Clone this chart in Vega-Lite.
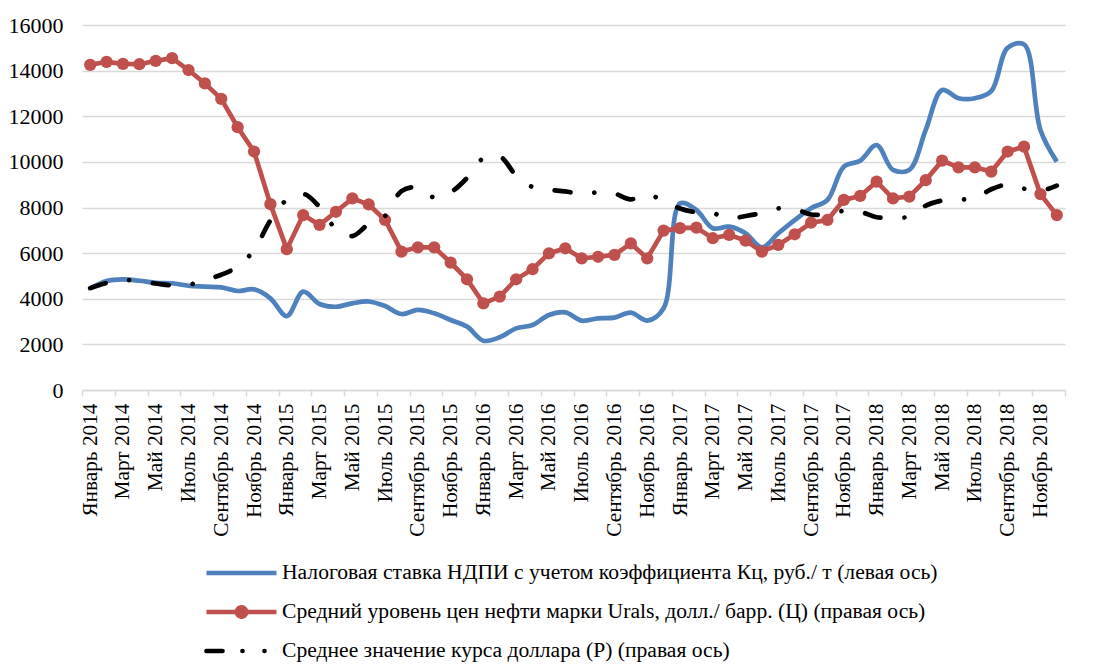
{
  "$schema": "https://vega.github.io/schema/vega-lite/v6.json",
  "width": 983,
  "height": 365,
  "autosize": {"type": "none"},
  "padding": {"left": 82, "top": 25, "right": 51, "bottom": 274},
  "background": "white",
  "config": {"view": {"stroke": null}, "font": "Liberation Serif, Times New Roman, serif"},
  "data": {"values": [
    {"month":"2014-01","m":0,"tax":4450,"urals":106.9,"usd":33.5},
    {"month":"2014-02","m":1,"tax":4780,"urals":107.9,"usd":35.2},
    {"month":"2014-03","m":2,"tax":4850,"urals":107.2,"usd":36.2},
    {"month":"2014-04","m":3,"tax":4790,"urals":107.1,"usd":35.7},
    {"month":"2014-05","m":4,"tax":4700,"urals":108.2,"usd":35.0},
    {"month":"2014-06","m":5,"tax":4680,"urals":109.1,"usd":34.4},
    {"month":"2014-07","m":6,"tax":4570,"urals":105.2,"usd":34.6},
    {"month":"2014-08","m":7,"tax":4530,"urals":100.8,"usd":36.1},
    {"month":"2014-09","m":8,"tax":4500,"urals":95.7,"usd":37.9},
    {"month":"2014-10","m":9,"tax":4340,"urals":86.4,"usd":40.6},
    {"month":"2014-11","m":10,"tax":4410,"urals":78.4,"usd":46.0},
    {"month":"2014-12","m":11,"tax":4020,"urals":61.1,"usd":55.8},
    {"month":"2015-01","m":12,"tax":3240,"urals":46.3,"usd":62.5},
    {"month":"2015-02","m":13,"tax":4310,"urals":57.5,"usd":64.5},
    {"month":"2015-03","m":14,"tax":3770,"urals":54.3,"usd":60.2},
    {"month":"2015-04","m":15,"tax":3650,"urals":58.6,"usd":53.0},
    {"month":"2015-05","m":16,"tax":3800,"urals":63.0,"usd":50.6},
    {"month":"2015-06","m":17,"tax":3880,"urals":61.0,"usd":54.6},
    {"month":"2015-07","m":18,"tax":3680,"urals":55.9,"usd":57.2},
    {"month":"2015-08","m":19,"tax":3330,"urals":45.5,"usd":65.4},
    {"month":"2015-09","m":20,"tax":3510,"urals":46.9,"usd":66.6},
    {"month":"2015-10","m":21,"tax":3360,"urals":46.9,"usd":63.3},
    {"month":"2015-11","m":22,"tax":3070,"urals":41.9,"usd":65.0},
    {"month":"2015-12","m":23,"tax":2780,"urals":36.4,"usd":69.7},
    {"month":"2016-01","m":24,"tax":2160,"urals":28.5,"usd":76.2},
    {"month":"2016-02","m":25,"tax":2310,"urals":30.7,"usd":76.8},
    {"month":"2016-03","m":26,"tax":2700,"urals":36.4,"usd":70.5},
    {"month":"2016-04","m":27,"tax":2850,"urals":39.7,"usd":66.7},
    {"month":"2016-05","m":28,"tax":3290,"urals":44.9,"usd":65.8},
    {"month":"2016-06","m":29,"tax":3400,"urals":46.6,"usd":65.3},
    {"month":"2016-07","m":30,"tax":3040,"urals":43.3,"usd":64.4},
    {"month":"2016-08","m":31,"tax":3140,"urals":43.8,"usd":65.0},
    {"month":"2016-09","m":32,"tax":3170,"urals":44.4,"usd":64.6},
    {"month":"2016-10","m":33,"tax":3390,"urals":48.2,"usd":62.7},
    {"month":"2016-11","m":34,"tax":3040,"urals":43.3,"usd":64.4},
    {"month":"2016-12","m":35,"tax":3580,"urals":52.4,"usd":62.0},
    {"month":"2017-01","m":36,"tax":8180,"urals":53.2,"usd":59.7},
    {"month":"2017-02","m":37,"tax":7890,"urals":53.4,"usd":58.4},
    {"month":"2017-03","m":38,"tax":7090,"urals":49.9,"usd":58.1},
    {"month":"2017-04","m":39,"tax":7160,"urals":51.0,"usd":56.4},
    {"month":"2017-05","m":40,"tax":6870,"urals":49.1,"usd":57.2},
    {"month":"2017-06","m":41,"tax":6250,"urals":45.5,"usd":58.2},
    {"month":"2017-07","m":42,"tax":6870,"urals":47.7,"usd":59.7},
    {"month":"2017-08","m":43,"tax":7450,"urals":51.2,"usd":59.5},
    {"month":"2017-09","m":44,"tax":7970,"urals":55.0,"usd":57.7},
    {"month":"2017-10","m":45,"tax":8330,"urals":55.9,"usd":57.9},
    {"month":"2017-11","m":46,"tax":9790,"urals":62.5,"usd":58.9},
    {"month":"2017-12","m":47,"tax":10050,"urals":63.8,"usd":58.6},
    {"month":"2018-01","m":48,"tax":10740,"urals":68.5,"usd":56.8},
    {"month":"2018-02","m":49,"tax":9650,"urals":63.0,"usd":56.8},
    {"month":"2018-03","m":50,"tax":9650,"urals":63.6,"usd":57.0},
    {"month":"2018-04","m":51,"tax":11400,"urals":69.0,"usd":60.6},
    {"month":"2018-05","m":52,"tax":13150,"urals":75.4,"usd":62.3},
    {"month":"2018-06","m":53,"tax":12790,"urals":73.2,"usd":62.7},
    {"month":"2018-07","m":54,"tax":12790,"urals":73.2,"usd":62.9},
    {"month":"2018-08","m":55,"tax":13100,"urals":71.8,"usd":66.0},
    {"month":"2018-09","m":56,"tax":15000,"urals":78.4,"usd":67.5},
    {"month":"2018-10","m":57,"tax":15150,"urals":80.0,"usd":66.2},
    {"month":"2018-11","m":58,"tax":11400,"urals":64.4,"usd":65.5},
    {"month":"2018-12","m":59,"tax":10010,"urals":57.5,"usd":67.2}
  ]},
  "encoding": {
    "x": {
      "field": "m",
      "type": "quantitative",
      "scale": {"domain": [-0.5, 59.5], "nice": false, "zero": false},
      "axis": {
        "values": [-0.5,1.5,3.5,5.5,7.5,9.5,11.5,13.5,15.5,17.5,19.5,21.5,23.5,25.5,27.5,29.5,31.5,33.5,35.5,37.5,39.5,41.5,43.5,45.5,47.5,49.5,51.5,53.5,55.5,57.5,59.5],
        "labelExpr": "datum.value > 59 ? '' : ['Январь','Март','Май','Июль','Сентябрь','Ноябрь'][round(((datum.value + 0.5) % 12) / 2)] + ' ' + (2014 + floor((datum.value + 0.5) / 12))",
        "labelAngle": 270,
        "labelAlign": "right",
        "labelBaseline": "middle",
        "labelOffset": 8.2,
        "labelPadding": 7,
        "labelFontSize": 21.3,
        "labelFont": "Liberation Serif, Times New Roman, serif",
        "labelColor": "#000000",
        "labelOverlap": false,
        "labelFlush": false,
        "labelBound": false,
        "labelLimit": 300,
        "grid": false,
        "domainColor": "#D9D9D9",
        "domainWidth": 1.5,
        "tickColor": "#D9D9D9",
        "tickSize": 6,
        "tickWidth": 1.5,
        "title": null
      }
    }
  },
  "layer": [
    {
      "mark": {"type": "line", "strokeWidth": 4.7, "interpolate": "catmull-rom"},
      "encoding": {
        "y": {
          "field": "tax",
          "type": "quantitative",
          "scale": {"domain": [0, 16000], "nice": false},
          "axis": {
            "orient": "left",
            "values": [0,2000,4000,6000,8000,10000,12000,14000,16000],
            "format": "d",
            "grid": true,
            "gridColor": "#D9D9D9",
            "gridWidth": 1.5,
            "domain": false,
            "ticks": false,
            "labelFontSize": 22,
            "labelFont": "Liberation Serif, Times New Roman, serif",
            "labelColor": "#000000",
            "labelPadding": 19,
            "title": null
          }
        },
        "color": {
          "datum": "Налоговая ставка НДПИ с учетом коэффициента Кц, руб./ т (левая ось)",
          "type": "nominal",
          "scale": {
            "domain": [
              "Налоговая ставка НДПИ с учетом коэффициента Кц, руб./ т (левая ось)",
              "Средний уровень цен нефти марки Urals, долл./ барр. (Ц) (правая ось)",
              "Среднее значение курса доллара (Р) (правая ось)"
            ],
            "range": ["#4F81BD", "#C0504D", "#000000"]
          },
          "legend": {
            "orient": "none",
            "legendX": 122,
            "legendY": 538,
            "direction": "vertical",
            "title": null,
            "padding": 0,
            "symbolType": "stroke",
            "symbolSize": 4900,
            "symbolStrokeWidth": 4.5,
            "labelFontSize": 21.6,
            "labelFont": "Liberation Serif, Times New Roman, serif",
            "labelColor": "#000000",
            "labelLimit": 900,
            "labelOffset": 3,
            "rowPadding": 17,
            "clipHeight": 20,
            "encode": {
              "symbols": {
                "update": {
                  "shape": {"signal": "datum.index === 1 ? 'M-1,0H1M-0.13,0A0.13,0.13,0,1,1,0.13,0A0.13,0.13,0,1,1,-0.13,0Z' : 'stroke'"},
                  "fill": {"signal": "datum.index === 1 ? '#C0504D' : 'transparent'"},
                  "stroke": {"signal": "datum.index === 0 ? '#4F81BD' : datum.index === 1 ? '#C0504D' : '#000000'"},
                  "strokeWidth": {"value": 4.7},
                  "strokeDash": {"signal": "datum.index === 2 ? [16,20,0.01,22,0.01,40] : [1,0]"},
                  "strokeCap": {"signal": "datum.index === 2 ? 'round' : 'butt'"}
                }
              }
            }
          }
        }
      }
    },
    {
      "layer": [
        {
          "mark": {"type": "line", "strokeWidth": 4.7, "point": {"filled": true, "size": 150}},
          "encoding": {
            "y": {
              "field": "urals",
              "type": "quantitative",
              "scale": {"domain": [0, 120], "nice": false},
              "axis": {
                "orient": "right",
                "values": [0,20,40,60,80,100,120],
                "format": "d",
                "grid": false,
                "domain": false,
                "ticks": false,
                "labelFontSize": 22,
                "labelFont": "Liberation Serif, Times New Roman, serif",
                "labelColor": "#000000",
                "labelPadding": 18,
                "title": null
              }
            },
            "color": {
              "datum": "Средний уровень цен нефти марки Urals, долл./ барр. (Ц) (правая ось)",
              "type": "nominal"
            }
          }
        },
        {
          "mark": {"type": "line", "strokeWidth": 4.7, "interpolate": "catmull-rom", "strokeDash": [16, 24, 0.01, 24], "strokeCap": "round"},
          "encoding": {
            "y": {"field": "usd", "type": "quantitative", "axis": null},
            "color": {
              "datum": "Среднее значение курса доллара (Р) (правая ось)",
              "type": "nominal"
            }
          }
        }
      ]
    }
  ],
  "resolve": {"scale": {"y": "independent"}}
}
